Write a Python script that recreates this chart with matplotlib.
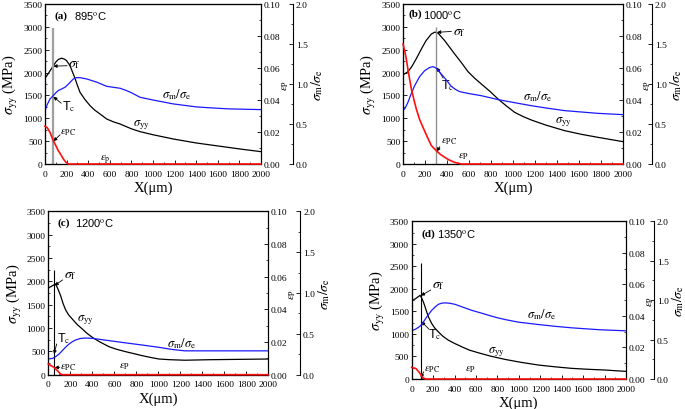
import matplotlib
matplotlib.use('Agg')
import matplotlib.pyplot as plt
from matplotlib.ticker import MultipleLocator, FormatStrFormatter

plt.rcParams['font.family'] = ['Liberation Serif', 'DejaVu Serif']
plt.rcParams['mathtext.fontset'] = 'stix'

# ---------------- data ----------------
panel_labels = ['(a)', '(b)', '(c)', '(d)']
temps = ['895$^{\\rm o}$C', '1000$^{\\rm o}$C', '1200$^{\\rm o}$C', '1350$^{\\rm o}$C']

# sigma_yy (MPa)
syy_x_a = [0, 25, 50, 75, 100, 125, 154, 180, 200, 231, 255, 280, 300, 324, 370, 417, 460, 500, 571, 630, 694, 800, 880, 1000, 1188, 1400, 1600, 1806, 2000]
syy_a = [1876, 1960, 2050, 2140, 2230, 2290, 2314, 2295, 2260, 2153, 2010, 1861, 1720, 1569, 1410, 1277, 1180, 1110, 985, 925, 876, 770, 708, 640, 547, 460, 395, 328, 270]
syy_x_b = [0, 40, 76, 120, 167, 210, 258, 290, 320, 379, 470, 530, 591, 650, 712, 790, 864, 940, 1015, 1090, 1167, 1300, 1470, 1620, 1773, 2000]
syy_b = [1950, 2010, 2115, 2300, 2516, 2700, 2844, 2885, 2860, 2698, 2406, 2220, 2020, 1880, 1750, 1590, 1422, 1270, 1130, 1040, 962, 850, 729, 650, 583, 489]
syy_x_c = [0, 30, 55, 67, 85, 112, 135, 158, 185, 218, 260, 309, 350, 400, 470, 552, 620, 703, 780, 855, 930, 1006, 1100, 1240, 1461, 2000]
syy_c = [1857, 1895, 1930, 1943, 1850, 1693, 1520, 1386, 1280, 1193, 1080, 979, 890, 800, 700, 600, 545, 493, 450, 407, 370, 336, 322, 310, 321, 336]
syy_x_d = [0, 40, 78, 95, 109, 125, 140, 160, 187, 215, 249, 290, 342, 400, 467, 540, 622, 740, 871, 1020, 1182, 1340, 1493, 1650, 1804, 2000]
syy_d = [1732, 1790, 1857, 1790, 1710, 1600, 1489, 1360, 1231, 1130, 1046, 950, 862, 790, 715, 640, 582, 505, 435, 370, 310, 270, 236, 215, 199, 169]

# sigma_m / sigma_e
ratio_x_a = [0, 20, 46, 77, 100, 123, 150, 185, 210, 230, 262, 293, 330, 386, 480, 571, 694, 750, 800, 880, 1000, 1188, 1400, 1497, 1700, 2000]
ratio_a = [0.667, 0.74, 0.813, 0.855, 0.89, 0.918, 0.935, 0.959, 0.99, 1.017, 1.063, 1.080, 1.078, 1.063, 1.023, 0.971, 0.947, 0.92, 0.891, 0.834, 0.800, 0.751, 0.714, 0.705, 0.689, 0.680]
ratio_x_b = [0, 20, 45, 75, 106, 150, 197, 240, 273, 300, 348, 400, 439, 480, 515, 600, 712, 864, 1000, 1167, 1300, 1470, 1773, 2000]
ratio_b = [0.667, 0.70, 0.771, 0.88, 0.979, 1.09, 1.167, 1.205, 1.217, 1.20, 1.125, 1.04, 0.971, 0.93, 0.905, 0.88, 0.854, 0.805, 0.77, 0.729, 0.70, 0.667, 0.633, 0.617]
ratio_x_c = [0, 40, 67, 100, 127, 160, 188, 220, 248, 290, 339, 400, 552, 700, 855, 1006, 1120, 1240, 2000]
ratio_c = [0.192, 0.20, 0.221, 0.255, 0.294, 0.34, 0.375, 0.405, 0.425, 0.443, 0.449, 0.445, 0.417, 0.39, 0.363, 0.335, 0.31, 0.292, 0.292]
ratio_x_d = [0, 40, 78, 100, 124, 155, 187, 220, 249, 280, 311, 350, 404, 480, 560, 640, 715, 790, 871, 1000, 1182, 1340, 1493, 1750, 2000]
ratio_d = [0.611, 0.635, 0.670, 0.705, 0.754, 0.815, 0.871, 0.915, 0.947, 0.962, 0.965, 0.962, 0.947, 0.91, 0.871, 0.84, 0.809, 0.78, 0.754, 0.72, 0.691, 0.668, 0.649, 0.625, 0.611]

# plastic strain eps_P
eps_x_a = [0, 20, 46, 77, 100, 123, 150, 170, 195, 216, 2000]
eps_a = [0.0236, 0.0228, 0.0198, 0.0146, 0.0115, 0.0083, 0.0055, 0.0031, 0.0010, 0.0, 0.0]
eps_x_b = [0, 15, 30, 50, 76, 100, 121, 150, 182, 220, 258, 303, 340, 379, 420, 470, 530, 2000]
eps_b = [0.075, 0.071, 0.0656, 0.057, 0.0469, 0.040, 0.0344, 0.028, 0.0229, 0.017, 0.0115, 0.0083, 0.006, 0.0042, 0.0025, 0.0010, 0.0, 0.0]
eps_x_c = [0, 52, 82, 112, 130, 2000]
eps_c = [0.0065, 0.0045, 0.0025, 0.0004, 0.0, 0.0]
eps_x_d = [0, 40, 70, 100, 125, 2000]
eps_d = [0.0074, 0.0066, 0.0042, 0.0012, 0.0, 0.0]

# critical position markers (vertical lines)
crit_x = [70, 300, 52, 84]
crit_top = [2980, 2990, 2250, 2570]

syy_x = [syy_x_a, syy_x_b, syy_x_c, syy_x_d]
syy = [syy_a, syy_b, syy_c, syy_d]
ratio_x = [ratio_x_a, ratio_x_b, ratio_x_c, ratio_x_d]
ratio = [ratio_a, ratio_b, ratio_c, ratio_d]
eps_x = [eps_x_a, eps_x_b, eps_x_c, eps_x_d]
eps = [eps_a, eps_b, eps_c, eps_d]

# ---------------- layout ----------------
W, H = 685, 410
fig = plt.figure(figsize=(W / 100, H / 100), dpi=100)

# (left px, top px, right px, bottom px, third spine offset px)
boxes = [(45, 5, 261, 165, 32), (403, 5, 623, 165, 29),
         (48.3, 212.3, 268.3, 375.7, 32), (411.7, 222.3, 626, 380, 28)]

vline_color = ['#a0a0a0', '#909090', 'black', 'black']
vline_lw = [1.6, 1.0, 0.8, 0.8]

# annotations: (text pos, arrow tail, arrow head) in left-axis data coords
ann = [
    dict(sf=((215, 2200), (205, 2150), (78, 2140)),
         tc=((157, 1269), (150, 1330), (78, 1470)),
         epc=((139, 700), (140, 640), (78, 500)),
         ep=(509, 110, 'p'), syy=(815, 875), rat=(1083, 1531)),
    dict(sf=((455, 2888), (440, 2900), (310, 2880)),
         tc=((345, 1728), (365, 1880), (308, 2110)),
         epc=((343, 510), (335, 380), (308, 275)),
         ep=(500, 175, 'P'), syy=(1379, 948), rat=(1091, 1494)),
    dict(sf=((140, 2143), (130, 2030), (58, 1910)),
         tc=((79, 786), (76, 658), (52, 440)),
         epc=((109, 172), (105, 160), (58, 150)),
         ep=(640, 194, 'P'), syy=(261, 1193), rat=(1079, 694)),
    dict(sf=((187, 2093), (178, 1975), (86, 1850)),
         tc=((155, 999), (160, 1110), (90, 1275)),
         epc=((115, 222), (112, 160), (84, 30)),
         ep=(497, 222, 'P'), syy=(715, 629), rat=(1073, 1443)),
]
label_pos = [(0.046, 0.134, 0.93), (0.023, 0.09, 0.94), (0.041, 0.123, 0.935), (0.047, 0.117, 0.924)]

tick_fs = 6.8
arrow_kw = dict(arrowstyle='-|>', color='k', lw=0.6, mutation_scale=5, shrinkA=0, shrinkB=0)

for i in range(4):
    l, t, r, b, off = boxes[i]
    ax = fig.add_axes([l / W, 1 - b / H, (r - l) / W, (b - t) / H])
    ax3 = ax.twinx()
    ax2 = ax.twinx()
    ax3.spines['right'].set_position(('outward', off * 72 / 100))

    ax.plot(syy_x[i], syy[i], color='black', lw=0.9)
    ax3.plot(ratio_x[i], ratio[i], color='#1a1aff', lw=0.9)
    ax2.plot(eps_x[i], eps[i], color='#ff1010', lw=1.2, clip_on=False, zorder=5)
    ax.vlines(crit_x[i], 0, crit_top[i], color=vline_color[i], lw=vline_lw[i])

    ax.set_xlim(0, 2000)
    ax.set_ylim(0, 3500)
    ax2.set_ylim(0, 0.10)
    ax3.set_ylim(0, 2.0)
    ax.xaxis.set_major_locator(MultipleLocator(200))
    ax.xaxis.set_minor_locator(MultipleLocator(100))
    ax.yaxis.set_major_locator(MultipleLocator(500))
    ax.yaxis.set_minor_locator(MultipleLocator(250))
    ax2.yaxis.set_major_locator(MultipleLocator(0.02))
    ax2.yaxis.set_minor_locator(MultipleLocator(0.01))
    ax3.yaxis.set_major_locator(MultipleLocator(0.5))
    ax3.yaxis.set_minor_locator(MultipleLocator(0.25))
    ax2.yaxis.set_major_formatter(FormatStrFormatter('%.2f'))
    ax3.yaxis.set_major_formatter(FormatStrFormatter('%.1f'))

    for a in (ax, ax2, ax3):
        a.tick_params(which='major', direction='in', length=3, width=0.6, labelsize=tick_fs, pad=2)
        a.tick_params(which='minor', direction='in', length=1.6, width=0.5)
        for s in a.spines.values():
            s.set_linewidth(0.8)
    ax.tick_params(axis='y', right=False)
    ax.tick_params(axis='x', top=False, which='both')
    ax.tick_params(axis='x', which='major', pad=4)

    ax.set_xlabel('X(μm)', fontsize=10.5, labelpad=2)
    ax.set_ylabel(r'$\sigma_{\rm yy}$ (MPa)', fontsize=10.5, labelpad=2)
    ax2.set_ylabel(r'$\varepsilon_{\rm P}$', fontsize=8, labelpad=0)
    ax3.set_ylabel(r'$\sigma_{\rm m}/\sigma_{\rm e}$', fontsize=10, labelpad=1)

    lx1, lx2, ly = label_pos[i]
    ax.text(lx1, ly, panel_labels[i], transform=ax.transAxes, fontsize=8, fontweight='bold', va='center', ha='left')
    ax.text(lx2, ly, temps[i], transform=ax.transAxes, fontsize=8, va='center', ha='left', family='Liberation Sans')

    A = ann[i]
    for key, txt, fam, fs in [('sf', r'$\sigma_{\rm f}$', None, 10),
                              ('tc', 'T$_{\\rm c}$', 'Liberation Sans', 9),
                              ('epc', r'$\varepsilon_{\rm PC}$', None, 8)]:
        tp, tail, head = A[key]
        kw = dict(fontsize=fs, va='center', ha='left')
        if fam:
            kw['family'] = fam
        ax.text(tp[0], tp[1], txt, **kw)
        ax.annotate('', xy=head, xytext=tail, arrowprops=arrow_kw)
    ex, ey, sub = A['ep']
    ax.text(ex, ey, r'$\varepsilon_{\rm %s}$' % sub, fontsize=8, va='center', ha='left')
    ax.text(A['syy'][0], A['syy'][1], r'$\sigma_{\rm yy}$', fontsize=9, va='center', ha='left')
    ax.text(A['rat'][0], A['rat'][1], r'$\sigma_{\rm m}/\sigma_{\rm e}$', fontsize=9, va='center', ha='left')

fig.savefig('out.png', dpi=100)
